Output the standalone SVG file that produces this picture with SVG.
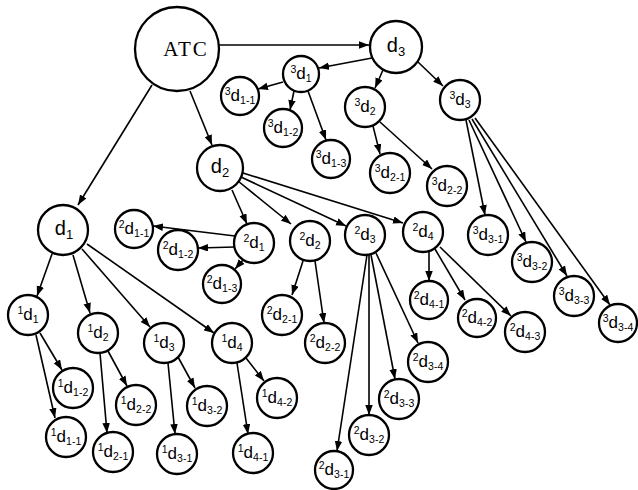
<svg xmlns="http://www.w3.org/2000/svg" width="638" height="490" viewBox="0 0 638 490">
<style>
circle{fill:#fff;stroke:#000;stroke-width:2.3}
.e line{stroke:#000;stroke-width:1.6;marker-end:url(#ah)}
text{font-family:"Liberation Sans",Arial,sans-serif;fill:#000;text-anchor:middle}
.s{font-size:10.5px}
.d{font-size:17px}
.D{font-size:20px}
.S{font-size:13px}
.atc{font-family:"Liberation Serif","Times New Roman",serif;font-size:21px;letter-spacing:2px}
</style>
<defs>
<marker id="ah" markerUnits="userSpaceOnUse" markerWidth="11" markerHeight="8" refX="10" refY="3.75" orient="auto">
<path d="M0,0 L10,3.75 L0,7.5 z" fill="#000"/>
</marker>
</defs>
<g class="e" id="connectors">
<line x1="219" y1="45" x2="369" y2="45"/>
<line x1="372" y1="58" x2="319" y2="68"/>
<line x1="283" y1="82" x2="258" y2="89"/>
<line x1="294" y1="91" x2="290" y2="110"/>
<line x1="308" y1="91" x2="326" y2="140"/>
<line x1="152" y1="85" x2="78" y2="205"/>
<line x1="190" y1="91" x2="212" y2="145"/>
<line x1="383" y1="70" x2="375" y2="88"/>
<line x1="418" y1="62" x2="443" y2="86"/>
<line x1="373" y1="126" x2="380" y2="154"/>
<line x1="380" y1="122" x2="432" y2="169"/>
<line x1="466" y1="120" x2="485" y2="215"/>
<line x1="469" y1="120" x2="526" y2="242"/>
<line x1="472" y1="119" x2="567" y2="276"/>
<line x1="475" y1="118" x2="610" y2="305"/>
<line x1="232" y1="190" x2="247" y2="224"/>
<line x1="238" y1="181" x2="291" y2="224"/>
<line x1="241" y1="177" x2="346" y2="226"/>
<line x1="243" y1="173" x2="403" y2="223"/>
<line x1="235" y1="236" x2="153" y2="226"/>
<line x1="235" y1="247" x2="198" y2="248"/>
<line x1="243" y1="260" x2="235" y2="269"/>
<line x1="303" y1="261" x2="292" y2="295"/>
<line x1="315" y1="261" x2="324" y2="323"/>
<line x1="367" y1="255" x2="337" y2="451"/>
<line x1="369" y1="255" x2="369" y2="415"/>
<line x1="371" y1="255" x2="395" y2="379"/>
<line x1="376" y1="253" x2="418" y2="343"/>
<line x1="429" y1="252" x2="429" y2="281"/>
<line x1="435" y1="249" x2="465" y2="300"/>
<line x1="440" y1="247" x2="511" y2="316"/>
<line x1="52" y1="254" x2="37" y2="296"/>
<line x1="73" y1="255" x2="90" y2="313"/>
<line x1="82" y1="249" x2="150" y2="327"/>
<line x1="87" y1="244" x2="214" y2="333"/>
<line x1="36" y1="335" x2="55" y2="418"/>
<line x1="40" y1="333" x2="62" y2="370"/>
<line x1="100" y1="353" x2="107" y2="433"/>
<line x1="108" y1="351" x2="127" y2="386"/>
<line x1="168" y1="363" x2="175" y2="434"/>
<line x1="178" y1="357" x2="195" y2="388"/>
<line x1="237" y1="363" x2="248" y2="434"/>
<line x1="246" y1="358" x2="264" y2="381"/>
</g>

<g id="n-atc"><circle cx="177" cy="49" r="42"/><text class="atc" x="186" y="56">ATC</text></g>
<g id="n-d3"><circle cx="396" cy="47" r="26"/><text x="396" y="52"><tspan class="D">d</tspan><tspan class="S" dy="4">3</tspan></text></g>
<g id="n-d2"><circle cx="220" cy="168" r="23"/><text x="220" y="173"><tspan class="D">d</tspan><tspan class="S" dy="4">2</tspan></text></g>
<g id="n-d1"><circle cx="63" cy="230" r="25"/><text x="64" y="235"><tspan class="D">d</tspan><tspan class="S" dy="4">1</tspan></text></g>

<g id="n-3d1"><circle cx="301" cy="74" r="18"/><text x="301" y="79"><tspan class="s" dy="-6">3</tspan><tspan class="d" dy="6">d</tspan><tspan class="s" dy="3">1</tspan></text></g>
<g id="n-3d1-1"><circle cx="240" cy="96" r="19"/><text x="240" y="101"><tspan class="s" dy="-6">3</tspan><tspan class="d" dy="6">d</tspan><tspan class="s" dy="3">1-1</tspan></text></g>
<g id="n-3d1-2"><circle cx="283" cy="128" r="19"/><text x="283" y="133"><tspan class="s" dy="-6">3</tspan><tspan class="d" dy="6">d</tspan><tspan class="s" dy="3">1-2</tspan></text></g>
<g id="n-3d1-3"><circle cx="331" cy="159" r="19"/><text x="331" y="164"><tspan class="s" dy="-6">3</tspan><tspan class="d" dy="6">d</tspan><tspan class="s" dy="3">1-3</tspan></text></g>
<g id="n-3d2"><circle cx="365" cy="107" r="20"/><text x="365" y="112"><tspan class="s" dy="-6">3</tspan><tspan class="d" dy="6">d</tspan><tspan class="s" dy="3">2</tspan></text></g>
<g id="n-3d3"><circle cx="460" cy="100" r="20"/><text x="460" y="105"><tspan class="s" dy="-6">3</tspan><tspan class="d" dy="6">d</tspan><tspan class="s" dy="3">3</tspan></text></g>
<g id="n-3d2-1"><circle cx="390" cy="173" r="20"/><text x="390" y="178"><tspan class="s" dy="-6">3</tspan><tspan class="d" dy="6">d</tspan><tspan class="s" dy="3">2-1</tspan></text></g>
<g id="n-3d2-2"><circle cx="447" cy="186" r="20"/><text x="447" y="191"><tspan class="s" dy="-6">3</tspan><tspan class="d" dy="6">d</tspan><tspan class="s" dy="3">2-2</tspan></text></g>
<g id="n-3d3-1"><circle cx="488" cy="235" r="20"/><text x="488" y="240"><tspan class="s" dy="-6">3</tspan><tspan class="d" dy="6">d</tspan><tspan class="s" dy="3">3-1</tspan></text></g>
<g id="n-3d3-2"><circle cx="532" cy="262" r="20"/><text x="532" y="267"><tspan class="s" dy="-6">3</tspan><tspan class="d" dy="6">d</tspan><tspan class="s" dy="3">3-2</tspan></text></g>
<g id="n-3d3-3"><circle cx="574" cy="296" r="20"/><text x="574" y="301"><tspan class="s" dy="-6">3</tspan><tspan class="d" dy="6">d</tspan><tspan class="s" dy="3">3-3</tspan></text></g>
<g id="n-3d3-4"><circle cx="618" cy="323" r="19"/><text x="618" y="328"><tspan class="s" dy="-6">3</tspan><tspan class="d" dy="6">d</tspan><tspan class="s" dy="3">3-4</tspan></text></g>

<g id="n-2d1"><circle cx="254" cy="243" r="20"/><text x="254" y="248"><tspan class="s" dy="-6">2</tspan><tspan class="d" dy="6">d</tspan><tspan class="s" dy="3">1</tspan></text></g>
<g id="n-2d2"><circle cx="310" cy="241" r="20"/><text x="310" y="246"><tspan class="s" dy="-6">2</tspan><tspan class="d" dy="6">d</tspan><tspan class="s" dy="3">2</tspan></text></g>
<g id="n-2d3"><circle cx="365" cy="235" r="20"/><text x="365" y="240"><tspan class="s" dy="-6">2</tspan><tspan class="d" dy="6">d</tspan><tspan class="s" dy="3">3</tspan></text></g>
<g id="n-2d4"><circle cx="423" cy="232" r="20"/><text x="423" y="237"><tspan class="s" dy="-6">2</tspan><tspan class="d" dy="6">d</tspan><tspan class="s" dy="3">4</tspan></text></g>
<g id="n-2d1-1"><circle cx="134" cy="229" r="19"/><text x="134" y="234"><tspan class="s" dy="-6">2</tspan><tspan class="d" dy="6">d</tspan><tspan class="s" dy="3">1-1</tspan></text></g>
<g id="n-2d1-2"><circle cx="178" cy="250" r="20"/><text x="178" y="255"><tspan class="s" dy="-6">2</tspan><tspan class="d" dy="6">d</tspan><tspan class="s" dy="3">1-2</tspan></text></g>
<g id="n-2d1-3"><circle cx="222" cy="284" r="19"/><text x="222" y="289"><tspan class="s" dy="-6">2</tspan><tspan class="d" dy="6">d</tspan><tspan class="s" dy="3">1-3</tspan></text></g>
<g id="n-2d2-1"><circle cx="282" cy="315" r="20"/><text x="282" y="320"><tspan class="s" dy="-6">2</tspan><tspan class="d" dy="6">d</tspan><tspan class="s" dy="3">2-1</tspan></text></g>
<g id="n-2d2-2"><circle cx="325" cy="343" r="20"/><text x="325" y="348"><tspan class="s" dy="-6">2</tspan><tspan class="d" dy="6">d</tspan><tspan class="s" dy="3">2-2</tspan></text></g>
<g id="n-2d3-1"><circle cx="334" cy="470" r="19"/><text x="334" y="475"><tspan class="s" dy="-6">2</tspan><tspan class="d" dy="6">d</tspan><tspan class="s" dy="3">3-1</tspan></text></g>
<g id="n-2d3-2"><circle cx="369" cy="435" r="20"/><text x="369" y="440"><tspan class="s" dy="-6">2</tspan><tspan class="d" dy="6">d</tspan><tspan class="s" dy="3">3-2</tspan></text></g>
<g id="n-2d3-3"><circle cx="399" cy="399" r="20"/><text x="399" y="404"><tspan class="s" dy="-6">2</tspan><tspan class="d" dy="6">d</tspan><tspan class="s" dy="3">3-3</tspan></text></g>
<g id="n-2d3-4"><circle cx="428" cy="362" r="20"/><text x="428" y="367"><tspan class="s" dy="-6">2</tspan><tspan class="d" dy="6">d</tspan><tspan class="s" dy="3">3-4</tspan></text></g>
<g id="n-2d4-1"><circle cx="429" cy="300" r="19"/><text x="429" y="305"><tspan class="s" dy="-6">2</tspan><tspan class="d" dy="6">d</tspan><tspan class="s" dy="3">4-1</tspan></text></g>
<g id="n-2d4-2"><circle cx="477" cy="318" r="19"/><text x="477" y="323"><tspan class="s" dy="-6">2</tspan><tspan class="d" dy="6">d</tspan><tspan class="s" dy="3">4-2</tspan></text></g>
<g id="n-2d4-3"><circle cx="525" cy="332" r="20"/><text x="525" y="337"><tspan class="s" dy="-6">2</tspan><tspan class="d" dy="6">d</tspan><tspan class="s" dy="3">4-3</tspan></text></g>

<g id="n-1d1"><circle cx="28" cy="315" r="20"/><text x="28" y="320"><tspan class="s" dy="-6">1</tspan><tspan class="d" dy="6">d</tspan><tspan class="s" dy="3">1</tspan></text></g>
<g id="n-1d2"><circle cx="98" cy="333" r="20"/><text x="98" y="338"><tspan class="s" dy="-6">1</tspan><tspan class="d" dy="6">d</tspan><tspan class="s" dy="3">2</tspan></text></g>
<g id="n-1d3"><circle cx="164" cy="343" r="20"/><text x="164" y="348"><tspan class="s" dy="-6">1</tspan><tspan class="d" dy="6">d</tspan><tspan class="s" dy="3">3</tspan></text></g>
<g id="n-1d4"><circle cx="232" cy="343" r="20"/><text x="232" y="348"><tspan class="s" dy="-6">1</tspan><tspan class="d" dy="6">d</tspan><tspan class="s" dy="3">4</tspan></text></g>
<g id="n-1d1-1"><circle cx="66" cy="437" r="20"/><text x="66" y="442"><tspan class="s" dy="-6">1</tspan><tspan class="d" dy="6">d</tspan><tspan class="s" dy="3">1-1</tspan></text></g>
<g id="n-1d1-2"><circle cx="73" cy="388" r="20"/><text x="73" y="393"><tspan class="s" dy="-6">1</tspan><tspan class="d" dy="6">d</tspan><tspan class="s" dy="3">1-2</tspan></text></g>
<g id="n-1d2-1"><circle cx="113" cy="452" r="20"/><text x="113" y="457"><tspan class="s" dy="-6">1</tspan><tspan class="d" dy="6">d</tspan><tspan class="s" dy="3">2-1</tspan></text></g>
<g id="n-1d2-2"><circle cx="136" cy="405" r="20"/><text x="136" y="410"><tspan class="s" dy="-6">1</tspan><tspan class="d" dy="6">d</tspan><tspan class="s" dy="3">2-2</tspan></text></g>
<g id="n-1d3-1"><circle cx="177" cy="454" r="20"/><text x="177" y="459"><tspan class="s" dy="-6">1</tspan><tspan class="d" dy="6">d</tspan><tspan class="s" dy="3">3-1</tspan></text></g>
<g id="n-1d3-2"><circle cx="207" cy="406" r="20"/><text x="207" y="411"><tspan class="s" dy="-6">1</tspan><tspan class="d" dy="6">d</tspan><tspan class="s" dy="3">3-2</tspan></text></g>
<g id="n-1d4-1"><circle cx="253" cy="453" r="20"/><text x="253" y="458"><tspan class="s" dy="-6">1</tspan><tspan class="d" dy="6">d</tspan><tspan class="s" dy="3">4-1</tspan></text></g>
<g id="n-1d4-2"><circle cx="277" cy="398" r="20"/><text x="277" y="403"><tspan class="s" dy="-6">1</tspan><tspan class="d" dy="6">d</tspan><tspan class="s" dy="3">4-2</tspan></text></g>
</svg>
